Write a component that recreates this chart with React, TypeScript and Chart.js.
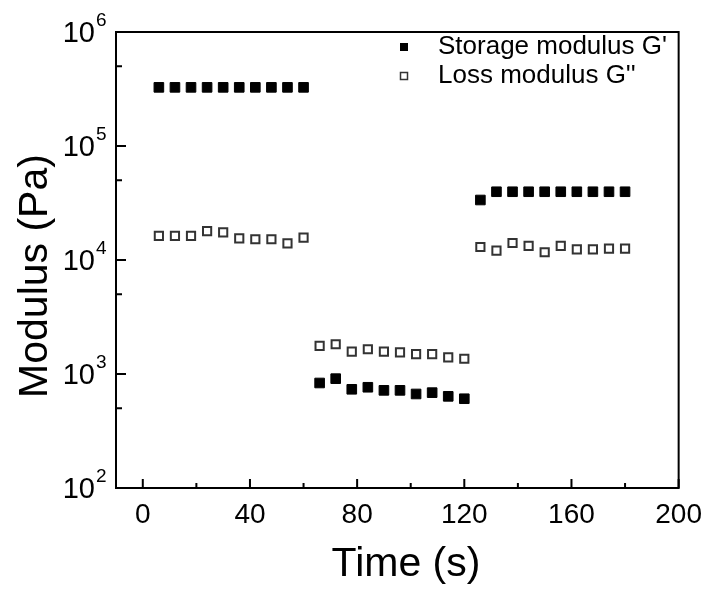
import React, { useEffect, useRef } from 'react';
import { Chart, registerables } from 'chart.js';

Chart.register(...registerables);

const timeValues = [
  6, 12, 18, 24, 30, 36, 42, 48, 54, 60,
  66, 72, 78, 84, 90, 96, 102, 108, 114, 120,
  126, 132, 138, 144, 150, 156, 162, 168, 174, 180,
];
const storageModulus = [
  327000, 327000, 327000, 327000, 327000, 327000, 327000, 327000, 327000, 327000,
  834, 910, 734, 765, 719, 719, 668, 686, 637, 607,
  33600, 39700, 39700, 39700, 39700, 39700, 39700, 39700, 39700, 39700,
];
const lossModulus = [
  16300, 16300, 16300, 17900, 17500, 15500, 15200, 15200, 14000, 15700,
  1762, 1823, 1571, 1648, 1571, 1549, 1496, 1496, 1400, 1361,
  13000, 12100, 14100, 13300, 11700, 13300, 12400, 12400, 12600, 12600,
];
const seriesLabels = ["Storage modulus G'", "Loss modulus G''"];
const xTickValues = [0, 40, 80, 120, 160, 200];
const xMinorTickValues = [20, 60, 100, 140, 180];
const yExponents = [2, 3, 4, 5, 6];
const yMinorTickValues = [500, 5000, 50000, 500000];
const xTitle = 'Time (s)';
const yTitle = 'Modulus (Pa)';

const FONT = '"Liberation Sans", Arial, sans-serif';

const framePlugin = {
  id: 'frameAndLabels',
  afterDraw(chart: any) {
    const { ctx, chartArea } = chart;
    const xs = chart.scales.x;
    const ys = chart.scales.y;
    ctx.save();
    ctx.strokeStyle = '#000';
    ctx.fillStyle = '#000';
    ctx.lineWidth = 2;
    ctx.strokeRect(chartArea.left, chartArea.top, chartArea.right - chartArea.left, chartArea.bottom - chartArea.top);
    ctx.beginPath();
    xTickValues.forEach((v) => {
      const px = xs.getPixelForValue(v);
      ctx.moveTo(px, chartArea.bottom);
      ctx.lineTo(px, chartArea.bottom - 9);
    });
    xMinorTickValues.forEach((v) => {
      const px = xs.getPixelForValue(v);
      ctx.moveTo(px, chartArea.bottom);
      ctx.lineTo(px, chartArea.bottom - 5);
    });
    yExponents.forEach((e) => {
      const py = ys.getPixelForValue(Math.pow(10, e));
      ctx.moveTo(chartArea.left, py);
      ctx.lineTo(chartArea.left + 10, py);
    });
    yMinorTickValues.forEach((v) => {
      const py = ys.getPixelForValue(v);
      ctx.moveTo(chartArea.left, py);
      ctx.lineTo(chartArea.left + 6, py);
    });
    ctx.stroke();

    // y tick labels with superscripts
    yExponents.forEach((e) => {
      const py = ys.getPixelForValue(Math.pow(10, e));
      ctx.font = `29px ${FONT}`;
      ctx.textAlign = 'right';
      ctx.textBaseline = 'middle';
      ctx.fillText('10', 95, py + 2);
      ctx.font = `19px ${FONT}`;
      ctx.textAlign = 'left';
      ctx.fillText(String(e), 96, py - 11);
    });

    // axis titles
    ctx.fillStyle = '#000';
    ctx.font = `41px ${FONT}`;
    ctx.textAlign = 'center';
    ctx.textBaseline = 'middle';
    ctx.fillText(xTitle, 406, 565);
    ctx.save();
    ctx.translate(36, 276);
    ctx.rotate(-Math.PI / 2);
    ctx.fillText(yTitle, 0, 0);
    ctx.restore();

    // legend
    const lx = 404;
    const ly = [47, 76];
    ctx.fillStyle = '#000';
    ctx.fillRect(lx - 4, ly[0] - 4, 8, 8);
    ctx.lineWidth = 1.5;
    ctx.strokeStyle = '#333';
    ctx.strokeRect(lx - 3.5, ly[1] - 3.5, 7, 7);
    ctx.fillStyle = '#000';
    ctx.font = `26px ${FONT}`;
    ctx.textAlign = 'left';
    ctx.textBaseline = 'middle';
    ctx.fillText(seriesLabels[0], 438, ly[0]);
    ctx.fillText(seriesLabels[1], 438, ly[1]);
    ctx.restore();
  },
};

export default function App() {
  const canvasRef = useRef<HTMLCanvasElement | null>(null);

  useEffect(() => {
    if (!canvasRef.current) return;
    const chart = new Chart(canvasRef.current, {
      type: 'scatter',
      data: {
        datasets: [
          {
            label: seriesLabels[0],
            data: timeValues.map((t, i) => ({ x: t, y: storageModulus[i] })),
            pointStyle: 'rect',
            pointRadius: 6.8,
            pointBackgroundColor: '#000',
            pointBorderColor: '#000',
            pointBorderWidth: 1,
            showLine: false,
          },
          {
            label: seriesLabels[1],
            data: timeValues.map((t, i) => ({ x: t, y: lossModulus[i] })),
            pointStyle: 'rect',
            pointRadius: 5.8,
            pointBackgroundColor: '#fff',
            pointBorderColor: '#333',
            pointBorderWidth: 2,
            showLine: false,
          },
        ],
      },
      options: {
        animation: false,
        responsive: true,
        maintainAspectRatio: false,
        layout: { padding: { top: 32, right: 29, left: 0, bottom: 0 } },
        plugins: {
          legend: { display: false },
          tooltip: { enabled: false },
        },
        scales: {
          x: {
            type: 'linear',
            min: -10,
            max: 200,
            grid: { display: false, drawTicks: false },
            border: { display: false },
            afterBuildTicks: (scale: any) => {
              scale.ticks = xTickValues.map((v) => ({ value: v }));
            },
            afterFit: (scale: any) => {
              scale.height = 102;
            },
            ticks: {
              color: '#000',
              padding: 10,
              font: { family: FONT, size: 28 },
              maxRotation: 0,
            },
            title: { display: false, text: xTitle },
          },
          y: {
            type: 'logarithmic',
            min: 100,
            max: 1000000,
            grid: { display: false, drawTicks: false },
            border: { display: false },
            ticks: { display: false },
            afterFit: (scale: any) => {
              scale.width = 116;
            },
            title: { display: false, text: yTitle },
          },
        },
      },
      plugins: [framePlugin],
    });
    return () => chart.destroy();
  }, []);

  return (
    <div style={{ position: 'absolute', left: 0, top: 0, width: 712, height: 590, background: '#fff' }}>
      <canvas ref={canvasRef} />
    </div>
  );
}
